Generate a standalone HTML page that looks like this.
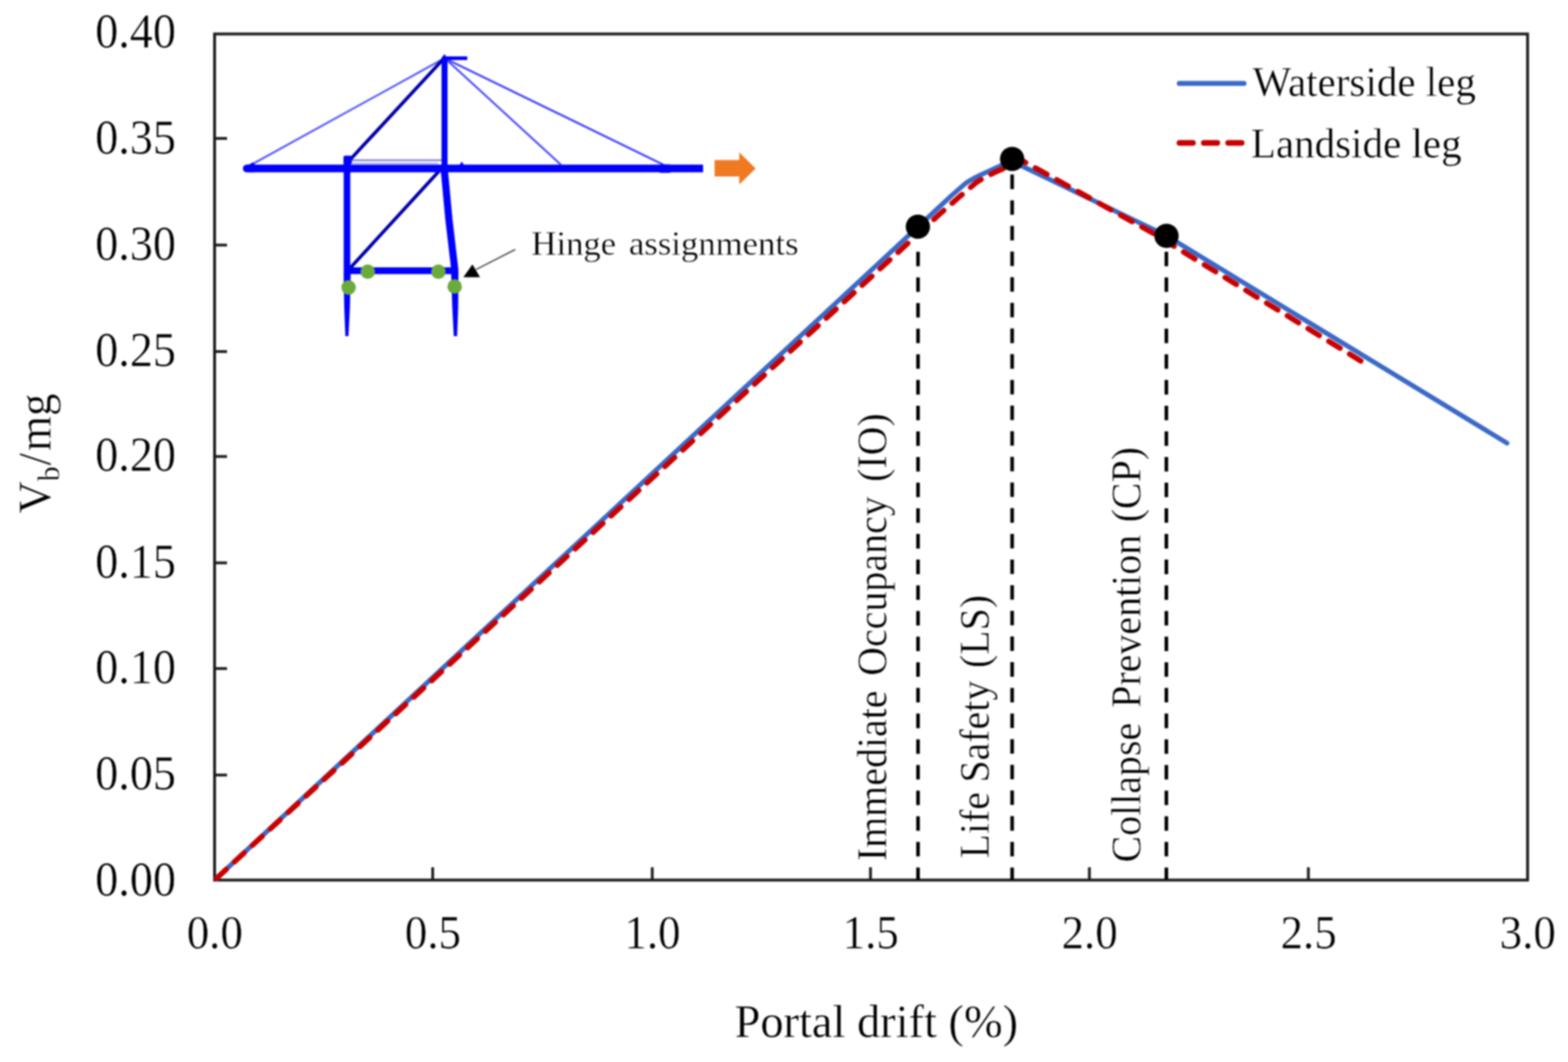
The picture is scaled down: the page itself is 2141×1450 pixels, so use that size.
<!DOCTYPE html>
<html lang="en"><head><meta charset="utf-8"><title>Pushover curve: base shear vs portal drift</title>
<style>
html,body{margin:0;padding:0;background:#fff;}
body{width:2141px;height:1450px;overflow:hidden;}
svg{display:block;}
text{font-family:"Liberation Serif", "DejaVu Serif", serif;fill:#000;stroke:#fff;stroke-width:0.5px;}
.t64{font-size:64px;}
.t56{font-size:56px;}
#fig{filter:blur(1px);}
</style></head><body>
<svg id="fig" width="2141" height="1450" viewBox="0 0 2141 1450">
<rect x="-5" y="-5" width="2151" height="1460" fill="#ffffff"/>
<g id="axes" stroke="#1c1c1c" stroke-width="3.9" fill="none">
<rect x="293.0" y="46.4" width="1792.8" height="1155.2"/>
<line x1="293.0" y1="189.0" x2="310.0" y2="189.0" stroke-width="3.8"/>
<line x1="293.0" y1="334.6" x2="310.0" y2="334.6" stroke-width="3.8"/>
<line x1="293.0" y1="480.0" x2="310.0" y2="480.0" stroke-width="3.8"/>
<line x1="293.0" y1="623.3" x2="310.0" y2="623.3" stroke-width="3.8"/>
<line x1="293.0" y1="768.5" x2="310.0" y2="768.5" stroke-width="3.8"/>
<line x1="293.0" y1="912.8" x2="310.0" y2="912.8" stroke-width="3.8"/>
<line x1="293.0" y1="1058.2" x2="310.0" y2="1058.2" stroke-width="3.8"/>
<line x1="590.8" y1="1201.6" x2="590.8" y2="1184.1" stroke-width="3.8"/>
<line x1="890.6" y1="1201.6" x2="890.6" y2="1184.1" stroke-width="3.8"/>
<line x1="1188.6" y1="1201.6" x2="1188.6" y2="1184.1" stroke-width="3.8"/>
<line x1="1487.5" y1="1201.6" x2="1487.5" y2="1184.1" stroke-width="3.8"/>
<line x1="1786.5" y1="1201.6" x2="1786.5" y2="1184.1" stroke-width="3.8"/>
</g>
<g id="ylabels">
<text transform="translate(240.2 65.0) scale(0.985 1.060)" text-anchor="end" font-size="64">0.40</text>
<text transform="translate(240.2 210.0) scale(0.985 1.060)" text-anchor="end" font-size="64">0.35</text>
<text transform="translate(240.2 354.9) scale(0.985 1.060)" text-anchor="end" font-size="64">0.30</text>
<text transform="translate(240.2 499.6) scale(0.985 1.060)" text-anchor="end" font-size="64">0.25</text>
<text transform="translate(240.2 643.2) scale(0.985 1.060)" text-anchor="end" font-size="64">0.20</text>
<text transform="translate(240.2 788.6) scale(0.985 1.060)" text-anchor="end" font-size="64">0.15</text>
<text transform="translate(240.2 933.4) scale(0.985 1.060)" text-anchor="end" font-size="64">0.10</text>
<text transform="translate(240.2 1077.8) scale(0.985 1.060)" text-anchor="end" font-size="64">0.05</text>
<text transform="translate(240.2 1222.7) scale(0.985 1.060)" text-anchor="end" font-size="64">0.00</text>
</g>
<g id="xlabels">
<text transform="translate(293.3 1295.2) scale(0.960 1.025)" text-anchor="middle" font-size="64">0.0</text>
<text transform="translate(591.1 1295.2) scale(0.960 1.025)" text-anchor="middle" font-size="64">0.5</text>
<text transform="translate(890.9 1295.2) scale(0.960 1.025)" text-anchor="middle" font-size="64">1.0</text>
<text transform="translate(1188.9 1295.2) scale(0.960 1.025)" text-anchor="middle" font-size="64">1.5</text>
<text transform="translate(1487.8 1295.2) scale(0.960 1.025)" text-anchor="middle" font-size="64">2.0</text>
<text transform="translate(1786.8 1295.2) scale(0.960 1.025)" text-anchor="middle" font-size="64">2.5</text>
<text transform="translate(2086.1 1295.2) scale(0.960 1.025)" text-anchor="middle" font-size="64">3.0</text>
</g>
<text transform="translate(1196.5 1416.4) scale(1.000 1.010)" text-anchor="middle" font-size="63.4" id="xtitle">Portal drift (%)</text>
<text id="ytitle" transform="translate(69.3 701.2) rotate(-90) scale(0.960 1)" font-size="64"><tspan x="0" y="0">V</tspan><tspan x="46.0" y="11.3" font-size="42">b</tspan><tspan x="68.5" y="0">/</tspan><tspan x="89.1" y="0">mg</tspan></text>
<g id="crane" fill="none" stroke="#0000ff" stroke-linecap="butt">
<line x1="343" y1="225" x2="606" y2="80" stroke="#5a5aff" stroke-width="2.7"/>
<line x1="608" y1="80" x2="766" y2="225" stroke="#4a4aff" stroke-width="2.6"/>
<line x1="608" y1="80" x2="906" y2="225" stroke="#4646ff" stroke-width="2.9"/>
<line x1="478" y1="218.7" x2="604" y2="218.7" stroke="#6c6cd0" stroke-width="2.1"/>
<line x1="480" y1="222.9" x2="598" y2="222.9" stroke="#9a9ae6" stroke-width="1.5"/>
<line x1="479" y1="217" x2="605" y2="81" stroke="#0000a6" stroke-width="4.7"/>
<line x1="478.5" y1="365.5" x2="601" y2="232" stroke="#0000a6" stroke-width="4.7"/>
<path d="M338 230 H960" stroke-width="10.4"/>
<path d="M336.8 230 H346" stroke-width="10.4" stroke-linecap="round"/>
<path d="M339 226 L345 221.5 L349 226 Z" fill="#0000ff" stroke="none"/>
<path d="M627 226 L630.5 220.5 L634 226 Z" fill="#0000ff" stroke="none"/>
<line x1="604" y1="79.5" x2="638" y2="79.5" stroke-width="5"/>
<path d="M602.8 80 L606.8 73.8 L611.2 80 Z" fill="#0000ff" stroke="none"/>
<line x1="607" y1="78" x2="607" y2="232" stroke-width="8.2"/>
<path d="M473.8 214 V375" stroke-width="9"/>
<rect x="469" y="212.5" width="11.4" height="12" rx="2.5" fill="#0000ff" stroke="none"/>
<path d="M606.5 230 L613 300 L621 368 L621 376" stroke-width="9.8" stroke-linejoin="round"/>
<line x1="474" y1="369.6" x2="621" y2="369.6" stroke-width="9.4"/>
<path d="M469.2 374 L478.8 374 L477.8 420 L475.8 459 L471.6 459 L470.0 420 Z" fill="#0000ff" stroke="none"/>
<path d="M616.0 374 L626.0 374 L625.6 420 L624.2 459 L619.6 459 L617.6 420 Z" fill="#0000ff" stroke="none"/>
<rect x="900" y="224.4" width="16" height="11.6" rx="2" fill="#0000ff" stroke="none"/>
</g>
<g id="hinges" fill="#6aab3c">
<circle cx="502.1" cy="370.9" r="9.9"/>
<circle cx="598.6" cy="370.9" r="9.9"/>
<circle cx="476.0" cy="392.5" r="9.9"/>
<circle cx="620.8" cy="391.2" r="9.9"/>
</g>
<path id="push-arrow" d="M975.7 218.5 H1009.4 V208 L1031.8 230 L1009.4 252 V241 H975.7 Z" fill="#f07a22"/>
<line x1="703.5" y1="340.6" x2="650" y2="368" stroke="#484848" stroke-width="1.9"/>
<path d="M632.7 378.4 L655.5 378.4 L645.1 361 Z" fill="#000"/>
<text x="725.5" y="347.8" font-size="47.4" word-spacing="5.5">Hinge assignments</text>
<clipPath id="plotclip"><rect x="290.6" y="46.4" width="1796.8" height="1157.6"/></clipPath>
<g id="series" clip-path="url(#plotclip)">
<path id="waterside" d="M295.6 1199.2 L1300 266.4 L1319.5 249.4 Q1331 242 1346.2 235.4 L1363 227.8 Q1374 222 1382 220.2 L1593 322 L2057.7 605" fill="none" stroke="#3b69c7" stroke-width="6.5" stroke-linecap="round" stroke-linejoin="round"/>
<path id="landside" d="M293 1201.6 L1284 291.4 L1309 269.6 L1333 249.2 Q1346 240.8 1361 234.2 L1380 226 Q1390 221.5 1397 220 L1572 317 L1863.5 496.2" fill="none" stroke="#c80000" stroke-width="7.3" stroke-linecap="round" stroke-linejoin="round" stroke-dasharray="18 15.25" stroke-dashoffset="-3.65"/>
</g>
<g id="levels" stroke="#000" stroke-width="4.9" stroke-dasharray="19.8 15.24" fill="none">
<line x1="1253.5" y1="343.64" x2="1253.5" y2="1201"/>
<line x1="1382.0" y1="238.34" x2="1382.0" y2="1201"/>
<line x1="1592.6" y1="343.64" x2="1592.6" y2="1201"/>
</g>
<g id="markers" fill="#000">
<circle cx="1253.3" cy="309.5" r="16.6"/>
<circle cx="1382.0" cy="217.0" r="16.6"/>
<circle cx="1592.8" cy="322.0" r="16.6"/>
</g>
<g id="level-labels">
<text transform="translate(1210.3 1175.7) rotate(-90) scale(1 1.06)" font-size="54.5"><tspan x="0.0" y="0">Immediate </tspan><tspan x="253.0" y="0">Occupancy </tspan><tspan x="517.6" y="0">(IO)</tspan></text>
<text transform="translate(1349.6 1172.0) rotate(-90) scale(1 1.06)" font-size="54.5"><tspan x="0.0" y="0">Life </tspan><tspan x="103.5" y="0">Safety </tspan><tspan x="259.8" y="0">(LS)</tspan></text>
<text transform="translate(1556.6 1177.5) rotate(-90) scale(1 1.06)" font-size="54.5"><tspan x="0.0" y="0">Collapse </tspan><tspan x="211.1" y="0">Prevention </tspan><tspan x="464.2" y="0">(CP)</tspan></text>
</g>
<g id="legend">
<line x1="1610.2" y1="113.9" x2="1698.6" y2="113.9" stroke="#3b69c7" stroke-width="6.7" stroke-linecap="round"/>
<line x1="1606.6" y1="195.1" x2="1699.3" y2="195.1" stroke="#c80000" stroke-width="7.8" stroke-linecap="round" stroke-dasharray="18.4 14.85" stroke-dashoffset="-3.9"/>
<text class="t56" x="1710.3" y="130.9">Waterside leg</text>
<text class="t56" x="1708" y="214.8">Landside leg</text>
</g>
</svg>
</body></html>
